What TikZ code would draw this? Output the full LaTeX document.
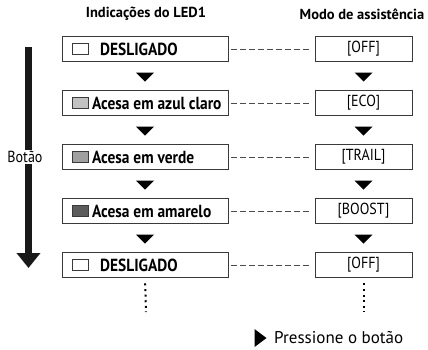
\documentclass[tikz,border=0pt]{standalone}
\usepackage{fontspec}
\setmainfont{PT Sans}
\newfontfamily\narrowfont[FakeStretch=0.88]{PT Sans}
\usetikzlibrary{arrows.meta,positioning,calc,shapes.geometric}
\definecolor{ledoff}{HTML}{FFFFFF}
\definecolor{ledcyan}{HTML}{C2C2C2}
\definecolor{ledgreen}{HTML}{A0A0A0}
\definecolor{ledyellow}{HTML}{5C5C5C}
\definecolor{framegray}{HTML}{3A3A3A}

\begin{document}
\begin{tikzpicture}[
  x=1pt, y=-1pt,
  ledbox/.style={
    rectangle,
    draw=framegray,
    line width=0.9pt,
    minimum width=166pt,
    minimum height=25pt,
    inner sep=0pt
  },
  modebox/.style={
    rectangle,
    draw=framegray,
    line width=0.9pt,
    minimum width=97pt,
    minimum height=25pt,
    inner sep=0pt,
    font=\narrowfont\fontsize{16}{18}\selectfont
  },
  lamp/.style={
    rectangle,
    draw=framegray,
    line width=0.7pt,
    minimum width=16pt,
    minimum height=11pt,
    inner sep=0pt
  },
  ledtext/.style={anchor=west, inner sep=0pt, font=\narrowfont\fontsize{17.5}{19}\selectfont\bfseries},
  heading/.style={font=\fontsize{14.5}{16}\selectfont\bfseries},
  link/.style={draw=black!70, line width=0.7pt, dash pattern=on 6pt off 3pt,
    shorten <=3pt, shorten >=3pt},
  more/.style={draw=black, line width=2pt, dash pattern=on 2pt off 3.6pt,
    shorten <=5.5pt},
  press/.style={fill=black}
]
\useasboundingbox (0,0) rectangle (428,349);

% column headings
\node[heading] (ledhead) at (146,14) {Indicações do LED1};
\node[heading] (modehead) at (362,14) {Modo de assistência};

% rows: lamp colour / text offset / LED text / mode
\foreach \i/\col/\tx/\txt/\mode [count=\n from 0] in {
    1/ledoff/100/DESLIGADO/[OFF],
    2/ledcyan/92/Acesa em azul claro/[ECO],
    3/ledgreen/92/Acesa em verde/[TRAIL],
    4/ledyellow/92/Acesa em amarelo/[BOOST],
    5/ledoff/100/DESLIGADO/[OFF]} {
  \node[ledbox] (l\i) at (145,49+54*\n) {};
  \node[modebox] (m\i) at (363.5,49+54*\n) {\mode};
  \node[lamp, fill=\col] (p\i) at (80,49+54*\n) {};
  \node[ledtext] (t\i) at (\tx,49.5+54*\n) {\txt};
  \draw[link] (l\i.east) -- (m\i.west);
}

% press markers between rows
\foreach \i/\j in {1/2,2/3,3/4,4/5} {
  \fill[press] ($(l\i.south)!0.5!(l\j.north)+(-9,-3.5)$) -- ++(18,0) -- ++(-9,9) -- cycle;
  \fill[press] ($(m\i.south)!0.5!(m\j.north)+(-9,-3.5)$) -- ++(18,0) -- ++(-9,9) -- cycle;
}

% continuation
\coordinate (lend) at (146,312);
\coordinate (mend) at (363.5,312);
\draw[more] (l5.south) -- (lend);
\draw[more] (m5.south) -- (mend);

% button arrow
\coordinate (btop) at (28.5,47);
\coordinate (btip) at (28.5,268);
\draw[line width=7pt, draw=black!90, -{Triangle[width=23pt,length=15pt]}] (btop) -- (btip);
\node[fill=white, inner sep=1pt, font=\narrowfont\fontsize{16}{18}\selectfont] (button) at (25,157) {Botão};

% legend
\node[isosceles triangle, fill=black, minimum height=12pt, minimum width=18pt,
  inner sep=0pt, isosceles triangle stretches] (key) at (259,338) {};
\node[right=7pt of key, inner sep=0pt, font=\fontsize{17}{19}\selectfont] (keytext) {Pressione o botão};
\end{tikzpicture}
\end{document}
